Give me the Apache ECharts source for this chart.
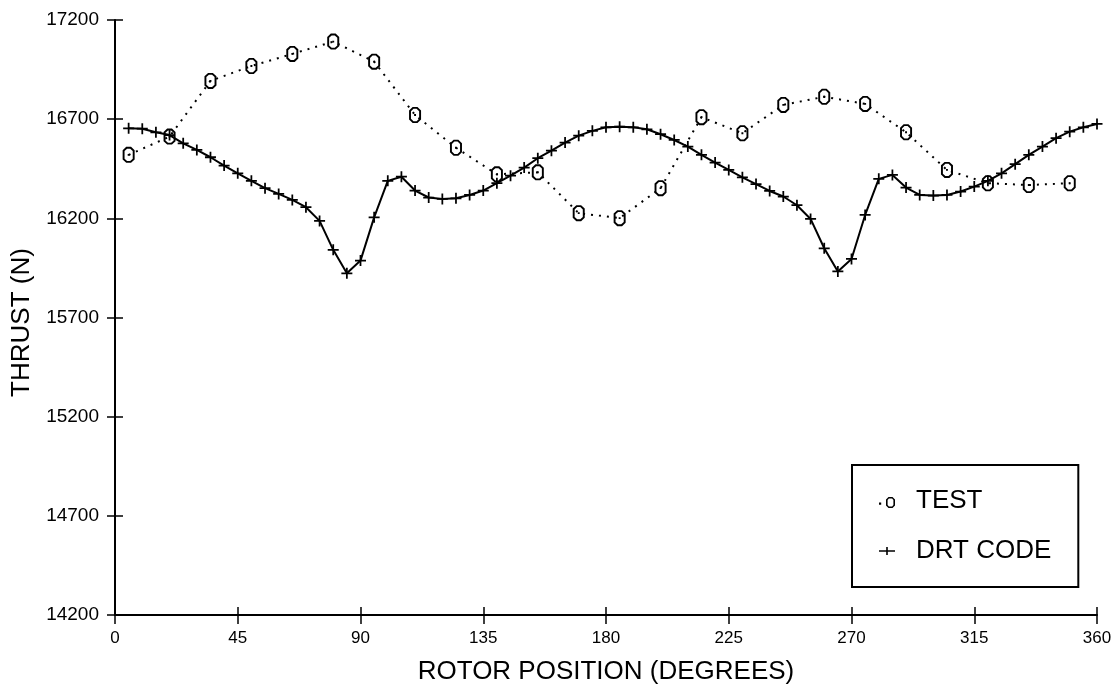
<!DOCTYPE html>
<html>
<head>
<meta charset="utf-8">
<script src="https://cdn.jsdelivr.net/npm/echarts@6/dist/echarts.min.js"></script>
<style>
  html, body { margin: 0; padding: 0; background: #ffffff; }
  #chart { width: 1119px; height: 690px; }
</style>
</head>
<body>
<div id="chart"></div>
<script>
// Rotor position in degrees
const testAngles = [5, 20, 35, 50, 65, 80, 95, 110, 125, 140, 155, 170, 185, 200, 215, 230, 245, 260, 275, 290, 305, 320, 335, 350];
// Measured thrust (N)
const testThrust = [16520, 16612, 16893, 16968, 17029, 17091, 16990, 16721, 16556, 16422, 16432, 16226, 16201, 16352, 16710, 16629, 16772, 16813, 16777, 16634, 16444, 16377, 16368, 16377];

// DRT code prediction, every 5 degrees from 5 to 360
const drtAngles = [5, 10, 15, 20, 25, 30, 35, 40, 45, 50, 55, 60, 65, 70, 75, 80, 85, 90, 95, 100, 105, 110, 115, 120,
  125, 130, 135, 140, 145, 150, 155, 160, 165, 170, 175, 180, 185, 190, 195, 200, 205, 210, 215, 220, 225, 230, 235, 240,
  245, 250, 255, 260, 265, 270, 275, 280, 285, 290, 295, 300, 305, 310, 315, 320, 325, 330, 335, 340, 345, 350, 355, 360];
const drtThrust = [16654, 16652, 16634, 16620, 16578, 16545, 16508, 16466, 16427, 16389, 16352, 16323, 16293, 16256, 16187, 16041, 15923, 15987, 16205, 16389, 16410, 16340, 16305, 16298,
  16301, 16318, 16340, 16377, 16415, 16456, 16503, 16541, 16582, 16617, 16641, 16659, 16662, 16659, 16649, 16624, 16595, 16562, 16520, 16481, 16444, 16407, 16373, 16338,
  16310, 16266, 16197, 16049, 15932, 15995, 16217, 16399, 16419, 16355, 16318, 16315, 16318, 16335, 16360, 16389, 16427, 16473, 16520, 16562, 16604, 16637, 16659, 16676];

const xTicks = { min: 0, max: 360, step: 45 };
const yTicks = { min: 14200, max: 17200, step: 500 };

const seriesNames = ['TEST', 'DRT CODE'];

const FONT = '"Liberation Sans", "DejaVu Sans", sans-serif';

// "0"-shaped open marker with a dot in its middle
const ringSymbol = 'path://M3,0 L7,0 L10,3 L10,11 L7,14 L3,14 L0,11 L0,3 Z ' +
  'M3.7,1.6 L1.6,3.7 L1.6,10.3 L3.7,12.4 L6.3,12.4 L8.4,10.3 L8.4,3.7 L6.3,1.6 Z ' +
  'M4.2,6.2 L5.8,6.2 L5.8,7.8 L4.2,7.8 Z';
// plus marker
const plusSymbol = 'path://M4.2,0 L5.8,0 L5.8,4.2 L10,4.2 L10,5.8 L5.8,5.8 L5.8,10 L4.2,10 L4.2,5.8 L0,5.8 L0,4.2 L4.2,4.2 Z';

// legend icons (16 x 14 box): a dot followed by a small "0"; a short line crossed by a tick
const testIcon = 'path://M0,0 L0.01,0 L0.01,0.01 Z M16,14 L15.99,14 L15.99,13.99 Z ' +
  'M0,8.6 L2.2,8.6 L2.2,10.8 L0,10.8 Z ' +
  'M9.5,3 L13.5,3 L16,5.5 L16,11.5 L13.5,14 L9.5,14 L7,11.5 L7,5.5 Z ' +
  'M9.9,4.6 L8.6,5.9 L8.6,11.1 L9.9,12.4 L13.1,12.4 L14.4,11.1 L14.4,5.9 L13.1,4.6 Z';
const drtIcon = 'path://M0,0 L0.01,0 L0.01,0.01 Z M16,14 L15.99,14 L15.99,13.99 Z ' +
  'M0,6.2 L16,6.2 L16,7.8 L0,7.8 Z M7.2,3 L8.8,3 L8.8,11 L7.2,11 Z';

function pairs(xs, ys) { return xs.map((x, i) => [x, ys[i]]); }

const baseX = {
  type: 'value', min: xTicks.min, max: xTicks.max, interval: xTicks.step,
  splitLine: { show: false }
};
const baseY = {
  type: 'value', min: yTicks.min, max: yTicks.max, interval: yTicks.step,
  splitLine: { show: false }
};

const chart = echarts.init(document.getElementById('chart'), null, { renderer: 'canvas' });
chart.setOption({
  animation: false,
  backgroundColor: '#ffffff',
  grid: { left: 115, right: 22, top: 20, bottom: 75, containLabel: false, outerBoundsMode: 'none' },
  xAxis: [
    Object.assign({}, baseX, {
      position: 'bottom',
      name: 'ROTOR POSITION (DEGREES)',
      nameLocation: 'middle',
      nameGap: 44,
      nameMoveOverlap: false,
      nameTextStyle: { fontFamily: FONT, fontSize: 26, color: '#000' },
      axisLine: { show: true, lineStyle: { color: '#000', width: 2 } },
      axisTick: { show: true, inside: false, length: 9, lineStyle: { color: '#000', width: 1.5 } },
      axisLabel: { show: true, margin: 15, fontFamily: FONT, fontSize: 17, color: '#000' }
    }),
    Object.assign({}, baseX, {
      position: 'bottom',
      axisLine: { show: false },
      axisTick: { show: true, inside: true, length: 8, lineStyle: { color: '#000', width: 1.5 } },
      axisLabel: { show: false }
    })
  ],
  yAxis: [
    Object.assign({}, baseY, {
      position: 'left',
      name: 'THRUST (N)',
      nameLocation: 'middle',
      nameGap: 80,
      nameRotate: 90,
      nameMoveOverlap: false,
      nameTextStyle: { fontFamily: FONT, fontSize: 26, color: '#000', padding: [0, 10, 0, 0] },
      axisLine: { show: true, lineStyle: { color: '#000', width: 2 } },
      axisTick: { show: true, inside: false, length: 8, lineStyle: { color: '#000', width: 1.5 } },
      axisLabel: {
        show: true, margin: 16, fontFamily: FONT, fontSize: 19, color: '#000',
        formatter: (v) => String(v)
      }
    }),
    Object.assign({}, baseY, {
      position: 'left',
      axisLine: { show: false },
      axisTick: { show: true, inside: true, length: 8, lineStyle: { color: '#000', width: 1.5 } },
      axisLabel: { show: false }
    })
  ],
  legend: {
    left: 852, top: 465,
    orient: 'vertical',
    backgroundColor: '#ffffff',
    borderColor: '#000', borderWidth: 2,
    padding: [23, 27, 23, 27],
    itemGap: 24,
    itemWidth: 16, itemHeight: 14,
    textStyle: { fontFamily: FONT, fontSize: 26, color: '#000', padding: [0, 0, 0, 16] },
    itemStyle: { borderWidth: 0 },
    data: [
      { name: seriesNames[0], icon: testIcon },
      { name: seriesNames[1], icon: drtIcon }
    ]
  },
  series: [
    {
      name: seriesNames[0],
      type: 'line',
      xAxisIndex: 0, yAxisIndex: 0,
      data: pairs(testAngles, testThrust),
      symbol: ringSymbol,
      symbolSize: [12, 16],
      showAllSymbol: true,
      itemStyle: { color: '#000', borderWidth: 0 },
      lineStyle: { color: '#000', width: 2, type: [2, 6] },
      z: 3
    },
    {
      name: seriesNames[1],
      type: 'line',
      xAxisIndex: 0, yAxisIndex: 0,
      data: pairs(drtAngles, drtThrust),
      symbol: plusSymbol,
      symbolSize: 11,
      showAllSymbol: true,
      itemStyle: { color: '#000', borderWidth: 0 },
      lineStyle: { color: '#000', width: 2 },
      z: 2
    }
  ]
});
</script>
</body>
</html>
